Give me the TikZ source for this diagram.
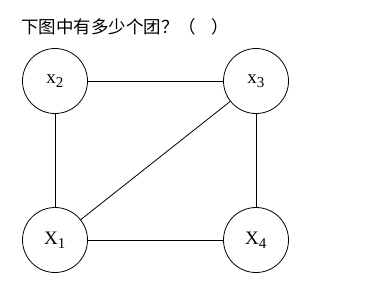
\documentclass[tikz,border=0pt]{standalone}
\usepackage{fontspec}
\setmainfont{Liberation Serif}
\newfontfamily\cjk{Noto Sans CJK SC}
\begin{document}
\begin{tikzpicture}[x=1pt,y=-1pt,
  vert/.style={circle,draw,line width=0.8pt,minimum size=65pt,inner sep=0pt,font=\fontsize{19}{21}\selectfont},
  edge/.style={line width=0.8pt}]
\useasboundingbox (0,0) rectangle (379,285);
\node[anchor=west,inner sep=0pt,font=\cjk\fontsize{17.5}{20}\selectfont] (t) at (21,27) {下图中有多少个团？（\hspace{0.9em}）};
\node[vert] (x2) at (55,81) {x\textsubscript{\fontsize{15}{17}\selectfont 2}};
\node[vert] (x3) at (256,81) {x\textsubscript{\fontsize{15}{17}\selectfont 3}};
\node[vert] (x1) at (55,240) {X\textsubscript{\fontsize{15}{17}\selectfont 1}};
\node[vert] (x4) at (256,240) {X\textsubscript{\fontsize{15}{17}\selectfont 4}};
\draw[edge] (x2) -- (x3);
\draw[edge] (x2) -- (x1);
\draw[edge] (x3) -- (x4);
\draw[edge] (x1) -- (x4);
\draw[edge] (x1) -- (x3);
\end{tikzpicture}
\end{document}
